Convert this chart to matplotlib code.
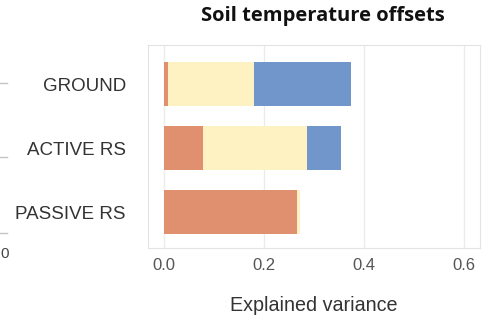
import matplotlib
matplotlib.use("Agg")
import matplotlib.pyplot as plt
from matplotlib.lines import Line2D

# explained variance per predictor group (stacked)
datasets = ["PASSIVE RS", "ACTIVE RS", "GROUND"]
part_a = [0.266, 0.078, 0.008]   # orange
part_b = [0.006, 0.208, 0.172]   # yellow
part_c = [0.0, 0.068, 0.194]     # blue
x_ticks = [0.0, 0.2, 0.4, 0.6]

c_a = "#E1906F"
c_b = "#FFF2C2"
c_c = "#7096CC"

fig = plt.figure(figsize=(4.91, 3.2), dpi=100)
ax = fig.add_axes([148 / 491, 1 - 248 / 320, (480 - 148) / 491, (248 - 45) / 320])

ypos = range(len(datasets))
left_b = [a for a in part_a]
left_c = [a + b for a, b in zip(part_a, part_b)]
ax.barh(ypos, part_a, height=0.69, color=c_a, zorder=3)
ax.barh(ypos, part_b, left=left_b, height=0.69, color=c_b, zorder=3)
ax.barh(ypos, part_c, left=left_c, height=0.69, color=c_c, zorder=3)

ax.set_xlim(-0.032, 0.632)
ax.set_ylim(-0.56, 2.61)
ax.set_xticks(x_ticks)
ax.set_xticklabels([f"{v:.1f}" for v in x_ticks], fontfamily="Liberation Sans",
                   fontsize=12, color="#555555")
ax.set_yticks(list(ypos))
ax.set_yticklabels(datasets, fontfamily="Liberation Sans", fontsize=13.5, color="#333333")
ax.tick_params(length=0)
ax.tick_params(axis="y", pad=16)
ax.tick_params(axis="x", pad=7)
ax.grid(axis="x", color="#ebebeb", lw=1, zorder=0)
for s in ax.spines.values():
    s.set_color("#e3e3e3")

ax.set_xlabel("Explained variance", fontfamily="Liberation Sans", fontsize=14.2,
              color="#333333", labelpad=17)
fig.text(323 / 491, 1 - 16 / 320, "Soil temperature offsets", ha="center", va="center",
         fontfamily="Open Sans", fontweight="bold", fontsize=14.5, color="#111111")

# remnants of the neighbouring panel at the left edge
for yy in [83, 157, 233]:
    fig.add_artist(Line2D([0, 7 / 491], [1 - yy / 320] * 2, color="#c4c4c4", lw=1))
fig.text(0, 1 - 254 / 320, "0", ha="left", va="center",
         fontfamily="Liberation Sans", fontsize=11, color="#444444")

fig.savefig("out.png", dpi=100)
